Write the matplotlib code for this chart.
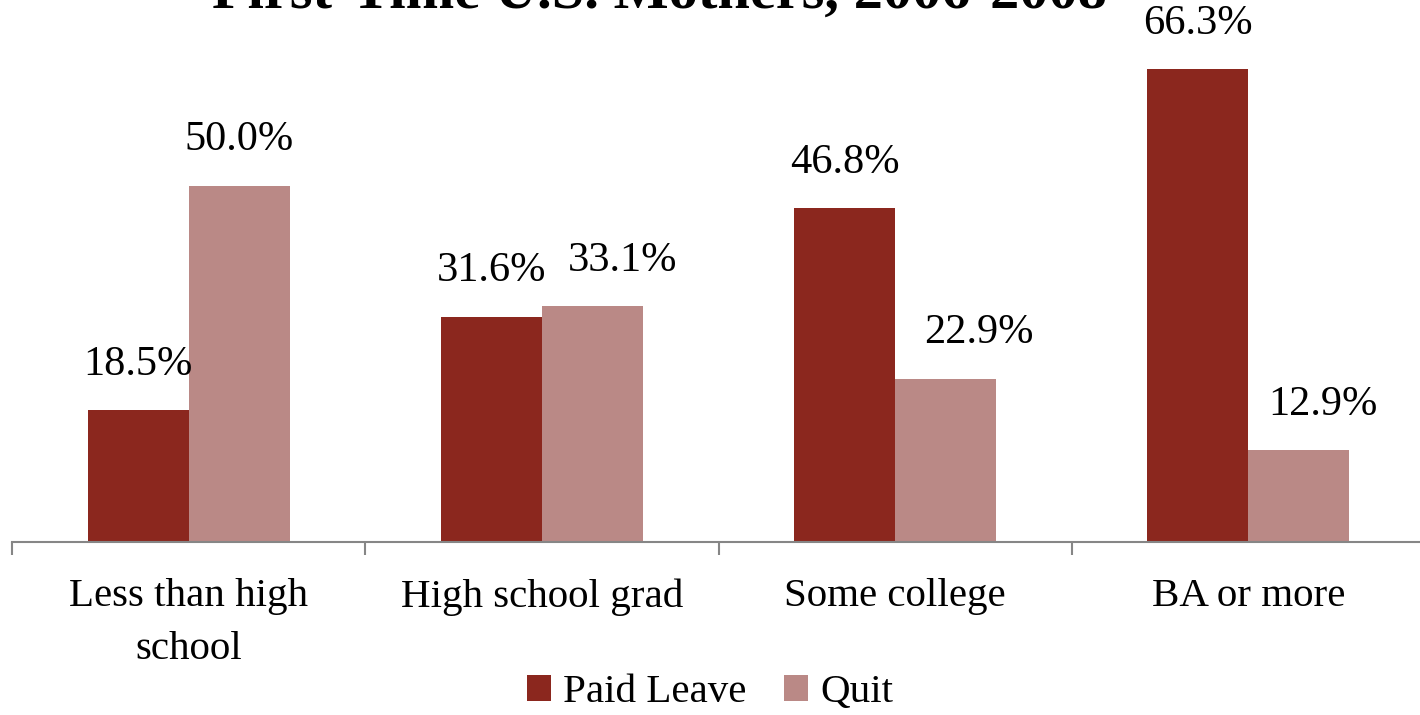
import matplotlib.pyplot as plt
import numpy as np

categories = ["Less than high\nschool", "High school grad", "Some college", "BA or more"]
paid_leave = [18.5, 31.6, 46.8, 66.3]
quit_job = [50.0, 33.1, 22.9, 12.9]
title = "First-Time U.S. Mothers, 2006-2008"

# horizontal nudges (points) of the value labels, as placed in the original
paid_nudge = [0, 0, 0, 0]
quit_nudge = [0, 22, 24, 17]

plt.rcParams["font.family"] = ["Liberation Serif", "DejaVu Serif"]

W, H = 1420, 715
fig = plt.figure(figsize=(W / 100, H / 100), dpi=100)
# axes placed in pixel units
left, right, bottom, top = 12, 1425, H - 542, H - 43
ax = fig.add_axes([left / W, bottom / H, (right - left) / W, (top - bottom) / H])

x = np.arange(len(categories))
w = 0.286
c_paid = "#8B271E"
c_quit = "#BA8986"
b1 = ax.bar(x - w / 2, paid_leave, w, color=c_paid, label="Paid Leave")
b2 = ax.bar(x + w / 2, quit_job, w, color=c_quit, label="Quit")

for bars, vals, nudge in ((b1, paid_leave, paid_nudge), (b2, quit_job, quit_nudge)):
    for rect, v, dx in zip(bars, vals, nudge):
        ax.annotate(f"{v:.1f}%", (rect.get_x() + rect.get_width() / 2, v),
                    xytext=(dx, 19), textcoords="offset points",
                    ha="center", va="bottom", fontsize=30.5)

ax.set_xlim(-0.5, len(categories) - 0.5)
ax.set_ylim(0, 70)
ax.set_yticks([])
for s in ("left", "right", "top"):
    ax.spines[s].set_visible(False)
ax.spines["bottom"].set_color("#868686")
ax.spines["bottom"].set_linewidth(1.5)

ax.set_xticks(np.arange(len(categories) + 1) - 0.5, minor=True)
ax.set_xticks(x)
ax.set_xticklabels(categories, fontsize=29.5, linespacing=1.57)
ax.tick_params(axis="x", which="major", length=0, pad=26)
ax.tick_params(axis="x", which="minor", length=9, width=1.5, color="#868686")

fig.legend(loc="center", bbox_to_anchor=(0.5, 1 - 693 / H), ncol=2,
           frameon=False, fontsize=29.5, handlelength=0.6, handleheight=0.6,
           handletextpad=0.3, columnspacing=0.9)

fig.text(660 / W, 1 - 8 / H, title, ha="center", va="baseline",
         fontsize=42, fontweight="bold")

fig.savefig("out.png", dpi=100)
